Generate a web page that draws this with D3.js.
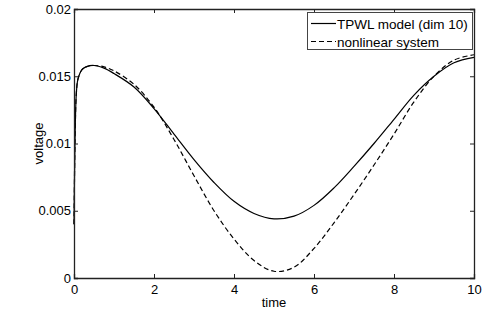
<!DOCTYPE html>
<html>
<head>
<meta charset="utf-8">
<script src="https://cdn.jsdelivr.net/npm/d3@7"></script>
<style>
  body { margin: 0; background: #fff; }
  text { font-family: "Liberation Sans", Arial, sans-serif; fill: #000; }
</style>
</head>
<body>
<div id="chart"></div>
<script>
// time samples and the two voltage curves
var time = [0, 0.03, 0.06, 0.1, 0.2, 0.3, 0.5, 0.75, 1, 1.5, 2, 2.5, 3, 3.5, 4, 4.5, 5, 5.5, 6, 6.5, 7, 7.5, 8, 8.5, 9, 9.5, 10];
var tpwl = [0.0040, 0.0110, 0.0138, 0.0148, 0.0155, 0.0157, 0.0158, 0.0156, 0.0152, 0.0142, 0.0126, 0.0107, 0.0088, 0.0071, 0.0057, 0.0048, 0.0044, 0.0046, 0.0054, 0.0067, 0.0083, 0.0100, 0.0118, 0.0136, 0.0150, 0.0160, 0.0164];
var nonlinear = [0.0040, 0.0110, 0.0138, 0.0148, 0.0155, 0.0157, 0.0158, 0.0157, 0.0154, 0.0144, 0.0127, 0.0103, 0.0076, 0.0050, 0.0029, 0.0013, 0.0005, 0.0008, 0.0022, 0.0041, 0.0062, 0.0084, 0.0107, 0.0131, 0.0150, 0.0162, 0.0166];
var xTicks = [0, 2, 4, 6, 8, 10];
var yTicks = [0, 0.005, 0.01, 0.015, 0.02];
var yTickLabels = ["0", "0.005", "0.01", "0.015", "0.02"];
var legendLabels = ["TPWL model (dim 10)", "nonlinear system"];

var width = 484, height = 312;
var pLeft = 74, pRight = 474, pTop = 9, pBottom = 278;

var svg = d3.select("#chart").append("svg")
    .attr("width", width)
    .attr("height", height);

var x = d3.scaleLinear().domain([0, 10]).range([pLeft, pRight]);
var y = d3.scaleLinear().domain([0, 0.02]).range([pBottom, pTop]);

// curves
var line = d3.line()
    .x(function(d) { return x(d[0]); })
    .y(function(d) { return y(d[1]); })
    .curve(d3.curveCatmullRom.alpha(0.5));

svg.append("path")
    .datum(time.map(function(t, i) { return [t, nonlinear[i]]; }))
    .attr("d", line)
    .attr("fill", "none")
    .attr("stroke", "#000")
    .attr("stroke-width", 1.2)
    .attr("stroke-dasharray", "5,3");

svg.append("path")
    .datum(time.map(function(t, i) { return [t, tpwl[i]]; }))
    .attr("d", line)
    .attr("fill", "none")
    .attr("stroke", "#000")
    .attr("stroke-width", 1.2);

// axes, matlab style box with inward ticks
var bottomAxis = d3.axisBottom(x).tickValues(xTicks).tickSize(-4).tickPadding(7).tickFormat(d3.format("d"));
var topAxis = d3.axisTop(x).tickValues(xTicks).tickSize(-4).tickFormat("");
var leftAxis = d3.axisLeft(y).tickValues(yTicks).tickSize(-4).tickPadding(3)
    .tickFormat(function(d, i) { return yTickLabels[i]; });
var rightAxis = d3.axisRight(y).tickValues(yTicks).tickSize(-4).tickFormat("");

function styleAxis(g) {
  g.select(".domain").attr("stroke", "#222").attr("stroke-width", 1.3);
  g.selectAll(".tick line").attr("stroke", "#222");
  g.selectAll(".tick text").attr("font-size", 13).attr("font-family", "Liberation Sans, Arial, sans-serif").attr("fill", "#000");
}

svg.append("g").attr("transform", "translate(0," + pBottom + ")").call(bottomAxis).call(styleAxis);
svg.append("g").attr("transform", "translate(0," + pTop + ")").call(topAxis).call(styleAxis);
svg.append("g").attr("transform", "translate(" + pLeft + ",0)").call(leftAxis).call(styleAxis);
svg.append("g").attr("transform", "translate(" + pRight + ",0)").call(rightAxis).call(styleAxis);

// axis labels
svg.append("text")
    .attr("x", (pLeft + pRight) / 2)
    .attr("y", 307)
    .attr("text-anchor", "middle")
    .attr("font-size", 13)
    .text("time");

svg.append("text")
    .attr("transform", "translate(43," + ((pTop + pBottom) / 2) + ") rotate(-90)")
    .attr("text-anchor", "middle")
    .attr("font-size", 13)
    .text("voltage");

// legend
var legend = svg.append("g");
legend.append("rect")
    .attr("x", 307.5).attr("y", 12.5)
    .attr("width", 165).attr("height", 37)
    .attr("fill", "#fff")
    .attr("stroke", "#444");

var dashes = [null, "5,3"];
legendLabels.forEach(function(lab, i) {
  var ly = 23.5 + i * 18;
  legend.append("line")
      .attr("x1", 311).attr("x2", 336)
      .attr("y1", ly).attr("y2", ly)
      .attr("stroke", "#000")
      .attr("stroke-width", 1.2)
      .attr("stroke-dasharray", dashes[i]);
  legend.append("text")
      .attr("x", 337)
      .attr("y", ly + 5.5)
      .attr("font-size", 13.5)
      .text(lab);
});
</script>
</body>
</html>
